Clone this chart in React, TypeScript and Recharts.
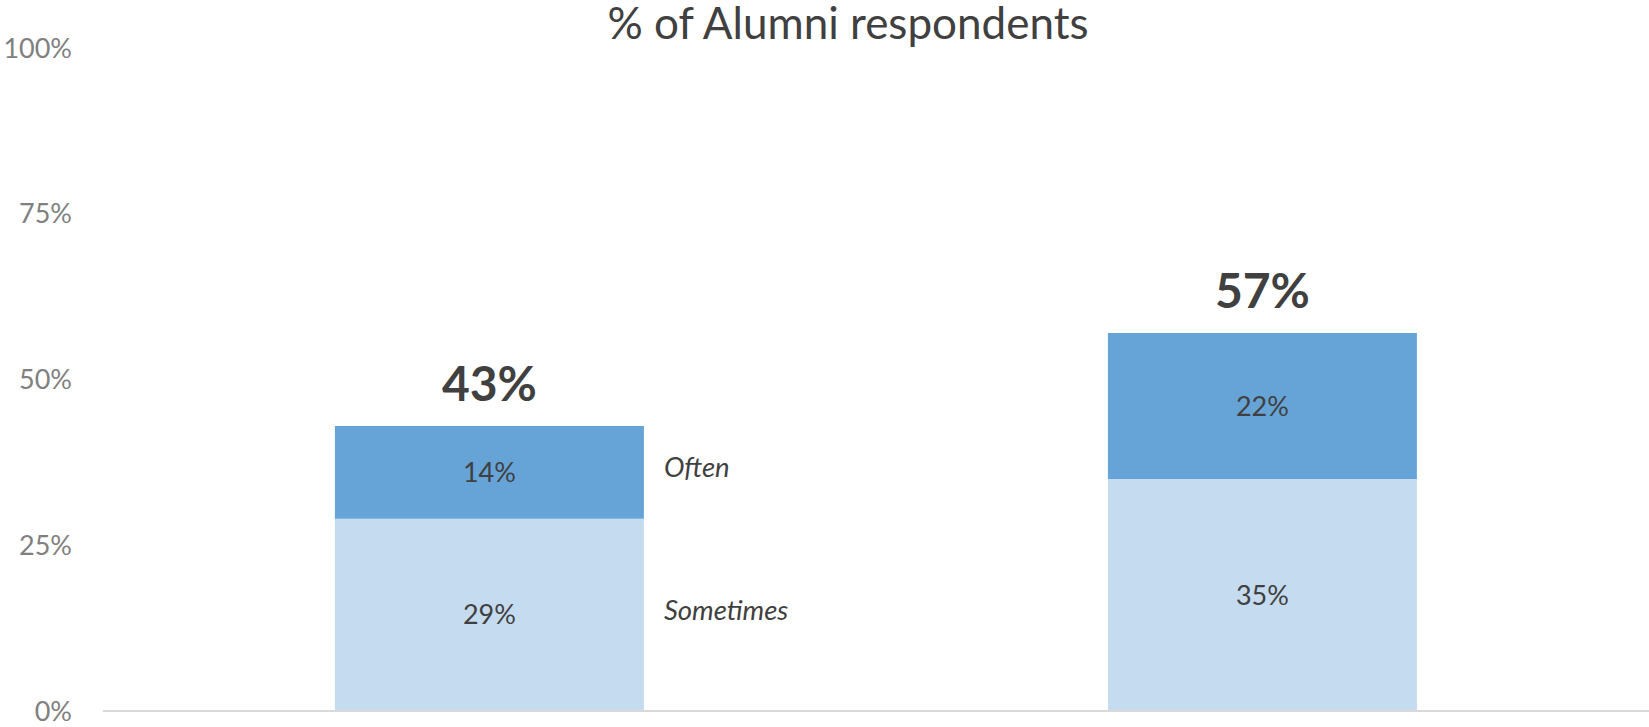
import React from 'react';
import { BarChart, Bar, XAxis, YAxis, LabelList } from 'recharts';

// values (percent of alumni respondents)
const groups = ['Group 1', 'Group 2'];
const sometimes = [29, 35];
const often = [14, 22];
const totals = [43, 57];
const yTicks = [0, 25, 50, 75, 100];

const data = groups.map((g, i) => ({
  name: g,
  sometimes: sometimes[i],
  often: often[i],
  total: totals[i],
}));

const FONT = 'Lato, "Open Sans", sans-serif';
const DARK = '#404040';

const pct = (v: any) => `${v}%`;

// series name to the right of the first bar only
const sideLabel = (text: string) => (props: any) => {
  const { x, y, width, height, index } = props;
  if (index !== 0) return null;
  return (
    <text
      x={Number(x) + Number(width) + 20}
      y={Number(y) + Number(height) / 2 - 5}
      dy="0.355em"
      fill={DARK}
      fontSize={27.5}
      fontStyle="italic"
      fontFamily={FONT}
    >
      {text}
    </text>
  );
};

const App: React.FC = () => {
  return (
    <div style={{ position: 'absolute', left: 0, top: 0, width: 1649, height: 727, background: '#fff' }}>
      <div
        style={{
          position: 'absolute',
          left: 0,
          top: 0,
          width: 1696,
          textAlign: 'center',
          fontFamily: FONT,
          fontSize: 44,
          lineHeight: '44px',
          color: DARK,
        }}
      >
        % of Alumni respondents
      </div>
      <BarChart
        width={1649}
        height={727}
        data={data}
        margin={{ top: 48, right: 0, bottom: 15, left: 0 }}
        barCategoryGap="30%"
      >
        <XAxis
          dataKey="name"
          height={1}
          tick={false}
          tickLine={false}
          axisLine={{ stroke: '#d9d9d9', strokeWidth: 2 }}
        />
        <YAxis
          type="number"
          domain={[0, 100]}
          ticks={yTicks}
          width={103}
          axisLine={false}
          tickLine={false}
          tickSize={0}
          tickMargin={31}
          tickFormatter={pct}
          tick={{ fill: '#808080', fontSize: 27, fontFamily: FONT }}
        />
        <Bar dataKey="sometimes" stackId="a" fill="#c5dbef" isAnimationActive={false}>
          <LabelList dataKey="sometimes" position="center" formatter={pct} fill={DARK} fontSize={27} fontFamily={FONT} />
          <LabelList dataKey="sometimes" content={sideLabel('Sometimes')} />
        </Bar>
        <Bar dataKey="often" stackId="a" fill="#66a3d7" isAnimationActive={false}>
          <LabelList dataKey="often" position="center" formatter={pct} fill={DARK} fontSize={27} fontFamily={FONT} />
          <LabelList dataKey="often" content={sideLabel('Often')} />
          <LabelList
            dataKey="total"
            position="top"
            offset={25}
            formatter={pct}
            fill={DARK}
            fontSize={48}
            fontWeight="bold"
            fontFamily={FONT}
          />
        </Bar>
      </BarChart>
    </div>
  );
};

export default App;
